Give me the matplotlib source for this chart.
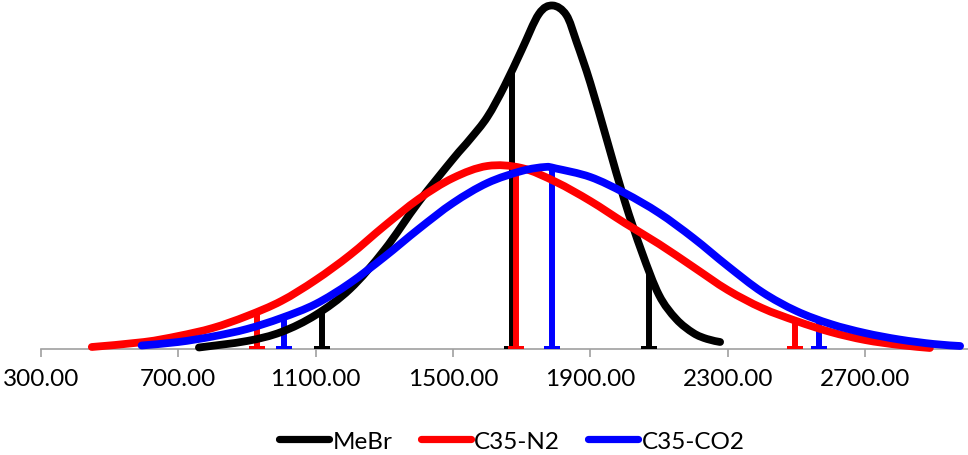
import numpy as np
import matplotlib
matplotlib.use("Agg")
import matplotlib.pyplot as plt
from matplotlib.path import Path
from matplotlib.patches import PathPatch
from matplotlib.lines import Line2D

plt.rcParams['font.family'] = ['Lato', 'DejaVu Sans']

# ---- data ----
series_names = ["MeBr", "C35-N2", "C35-CO2"]
series_colors = ["#000000", "#ff0000", "#0000ff"]

mebr_x = [760, 900, 1000, 1100, 1200, 1300, 1400, 1500, 1550, 1600, 1650, 1700,
          1750, 1790, 1830, 1860, 1900, 1950, 2000, 2050, 2100, 2150, 2200, 2240, 2278]
mebr_y = [1.5, 8, 17, 34, 60, 99, 147, 190, 210, 232, 263, 299,
          335, 343.5, 334, 307, 266, 207, 148, 97, 54, 30, 16, 10, 7]

n2_x = [448, 600, 700, 800, 900, 1000, 1100, 1200, 1300, 1400, 1500, 1600, 1700,
        1800, 1900, 2000, 2100, 2200, 2300, 2400, 2500, 2600, 2700, 2800, 2889]
n2_y = [2, 7, 13, 21, 33, 48, 69, 94, 123, 150, 171, 183, 181,
        167, 148, 126, 105, 82, 59, 41, 28, 17, 9, 4, 1]

co2_x = [593, 700, 800, 900, 1000, 1100, 1200, 1300, 1400, 1500, 1600, 1700, 1768,
         1800, 1900, 2000, 2100, 2200, 2300, 2400, 2500, 2600, 2700, 2800, 2900, 2977]
co2_y = [3.5, 7, 12.5, 20, 31, 45, 66, 92, 120, 146, 166, 178, 182,
         180.5, 172, 156, 136, 111, 83, 57, 38, 25, 16, 9.5, 5, 3]

# vertical marker lines (x position, height)
mebr_vx = [1117, 1671, 2072]
mebr_vy = [36, 280, 78]
n2_vx = [930, 1683, 2496]
n2_vy = [36, 181, 28]
co2_vx = [1009, 1787, 2567]
co2_vy = [31, 181, 29]

xticks = [300, 700, 1100, 1500, 1900, 2300, 2700]


def smooth_path(xs, ys):
    p = np.column_stack([xs, ys]).astype(float)
    n = len(p)
    verts = [p[0]]
    codes = [Path.MOVETO]
    for i in range(n - 1):
        p0 = p[i - 1] if i > 0 else p[i]
        p1 = p[i]
        p2 = p[i + 1]
        p3 = p[i + 2] if i + 2 < n else p[i + 1]
        c1 = p1 + (p2 - p0) / 6.0
        c2 = p2 - (p3 - p1) / 6.0
        verts += [c1, c2, p2]
        codes += [Path.CURVE4] * 3
    return Path(verts, codes)


W, H = 968, 456
fig = plt.figure(figsize=(W / 100, H / 100), dpi=100)
ax = fig.add_axes([41 / W, (H - 350) / H, (968 - 41) / W, 350 / H])
ax.set_xlim(300, 3000)
ax.set_ylim(0, 350)

curve_lw = 5.6
vert_lw = 4.3

foot = [(-1, 0), (1, 0), (1, 0.4), (-1, 0.4), (-1, 0)]

all_sets = [
    (mebr_x, mebr_y, mebr_vx, mebr_vy),
    (n2_x, n2_y, n2_vx, n2_vy),
    (co2_x, co2_y, co2_vx, co2_vy),
]

for (cx, cy, vx, vy), col in zip(all_sets, series_colors):
    ax.vlines(vx, 0, vy, colors=col, linewidth=vert_lw, zorder=2, clip_on=False)
    ax.plot(vx, [0] * len(vx), linestyle='none', marker=foot, markersize=12,
            color=col, markeredgewidth=0, zorder=2, clip_on=False)

for (cx, cy, vx, vy), col in zip(all_sets, series_colors):
    patch = PathPatch(smooth_path(cx, cy), fill=False, edgecolor=col,
                      linewidth=curve_lw, capstyle='round', joinstyle='round',
                      zorder=3, clip_on=False)
    ax.add_patch(patch)

for s in ['top', 'right', 'left']:
    ax.spines[s].set_visible(False)
ax.spines['bottom'].set_color('#a0a0a0')
ax.spines['bottom'].set_linewidth(1.2)
ax.spines['bottom'].set_zorder(1)
ax.set_yticks([])
ax.set_xticks(xticks)
ax.set_xticklabels([f"{v:.2f}" for v in xticks])
ax.tick_params(axis='x', direction='out', length=6, width=1.2, color='#a0a0a0',
               labelsize=17.5, pad=8, labelcolor='#000000')

handles = [Line2D([], [], color=c, linewidth=5.2, solid_capstyle='round')
           for c in series_colors]
fig.legend(handles, series_names, loc='center', bbox_to_anchor=(0.529, 1 - 442 / H),
           ncol=3, frameon=False, fontsize=17.5, handlelength=2.05,
           handletextpad=0.15, columnspacing=1.15)

fig.savefig("out.png", dpi=100)
